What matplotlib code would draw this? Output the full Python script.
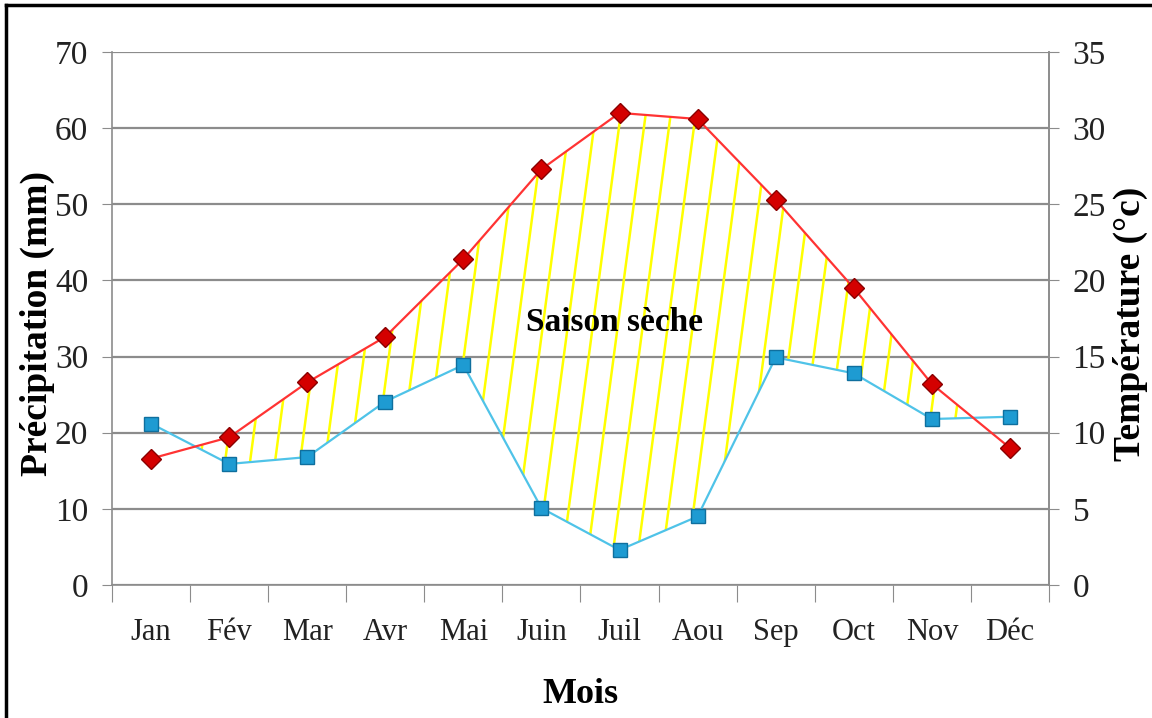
import numpy as np
import matplotlib
matplotlib.use('Agg')
import matplotlib.pyplot as plt
from matplotlib.patches import PathPatch
from matplotlib.path import Path
from matplotlib.lines import Line2D

matplotlib.rcParams.update({'font.family': 'Liberation Serif'})

months = ['Jan', 'Fév', 'Mar', 'Avr', 'Mai', 'Juin', 'Juil', 'Aou', 'Sep', 'Oct', 'Nov', 'Déc']
precip = [21.2, 15.9, 16.8, 24.1, 28.9, 10.1, 4.6, 9.0, 29.9, 27.8, 21.8, 22.1]
temp = [8.3, 9.7, 13.3, 16.3, 21.4, 27.3, 31.0, 30.6, 25.3, 19.5, 13.2, 9.0]

x = np.arange(len(months))
P = np.array(precip)
T2 = 2 * np.array(temp)   # ombrothermic scale P = 2T

fig = plt.figure(figsize=(11.52, 7.18), dpi=100)
ax = fig.add_axes([0.0972, 0.1852, 0.8134, 0.7424])
ax2 = ax.twinx()

GRID = '#8c8c8c'

# left axis
ax.set_xlim(-0.5, 11.5)
ax.set_ylim(0, 70)
ax.set_yticks(range(0, 71, 10))
ax.yaxis.grid(True, color=GRID, lw=1.6)
ax.set_axisbelow(True)
ax.spines['top'].set_visible(False)
for s in ['left', 'right', 'bottom']:
    ax.spines[s].set_color(GRID)
    ax.spines[s].set_linewidth(1.2)
ax.tick_params(axis='y', length=7, color=GRID, labelsize=24, pad=10, labelcolor='#222222')

ax.set_xticks(np.arange(-0.5, 12, 1))
ax.set_xticklabels([])
ax.set_xticks(x, minor=True)
ax.set_xticklabels(months, minor=True, fontsize=22, color='#222222')
ax.tick_params(axis='x', which='major', length=12, color=GRID)
ax.tick_params(axis='x', which='minor', length=0, pad=24)

# dry season hatching: region where 2T > P
poly = ax.fill_between(x, P, T2, where=T2 >= P, interpolate=True,
                       facecolor='none', edgecolor='none')
clip = PathPatch(Path.make_compound_path(*poly.get_paths()),
                 facecolor='none', edgecolor='none', transform=ax.transData)
ax.add_patch(clip)
for x0 in np.arange(-1.5, 12, 0.32):
    ln = Line2D([x0, x0 + 0.9], [0, 70], color='#ffff00', lw=1.8, zorder=2)
    ax.add_line(ln)
    ln.set_clip_path(clip)

ax.plot(x, P, color='#4fc3e8', lw=1.6, zorder=3)
ax.plot(x, P, ls='none', marker='s', ms=10, mfc='#1e9bd2', mec='#0f6f9e', mew=1.0, zorder=4)

# right axis (temperature)
ax2.set_ylim(0, 35)
ax2.set_yticks(range(0, 36, 5))
ax2.tick_params(axis='y', length=7, color=GRID, labelsize=24, pad=10, labelcolor='#222222')
for s in ['top', 'left', 'bottom']:
    ax2.spines[s].set_visible(False)
ax2.spines['right'].set_color(GRID)
ax2.spines['right'].set_linewidth(1.2)
ax2.plot(x, temp, color='#ff3333', lw=1.6, zorder=3)
ax2.plot(x, temp, ls='none', marker='D', ms=10, mfc='#d40000', mec='#8a0000', mew=1.0, zorder=4)

ax.text(5.94, 34.5, 'Saison sèche', ha='center', va='center', fontsize=24, fontweight='bold')

ax.set_ylabel('Précipitation (mm)', fontsize=27, fontweight='bold')
ax.yaxis.set_label_coords(-0.061, 0.49)
ax2.set_ylabel('Température (°c)', fontsize=27, fontweight='bold', rotation=90)
ax2.yaxis.set_label_coords(1.068, 0.49)
ax.set_xlabel('Mois', fontsize=26, fontweight='bold')
ax.xaxis.set_label_coords(0.5, -0.175)

# outer frame
fig.add_artist(Line2D([0.005, 0.005], [0, 0.993], transform=fig.transFigure, color='black', lw=2.5))
fig.add_artist(Line2D([0.005, 1.0], [0.993, 0.993], transform=fig.transFigure, color='black', lw=2.5))

fig.savefig('out.png', dpi=100)
